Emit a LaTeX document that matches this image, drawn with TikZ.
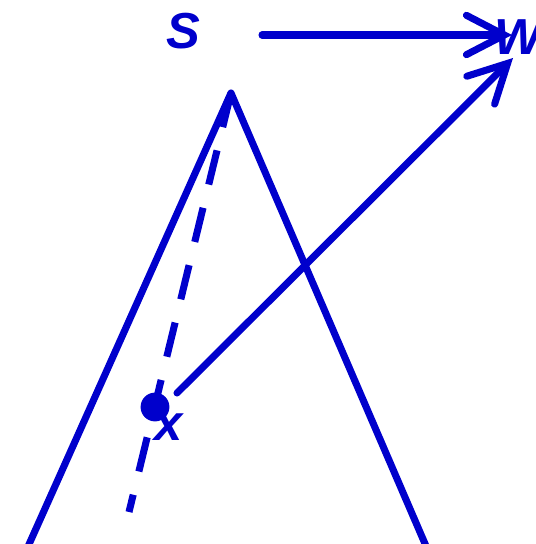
\documentclass[tikz,border=0pt]{standalone}
\usepackage{fontspec}
\setmainfont{Liberation Sans}
\usetikzlibrary{arrows.meta,positioning,calc}
\definecolor{treecol}{RGB}{0,0,204}

\begin{document}
\begin{tikzpicture}[
    x=0.025cm, y=-0.025cm,
    >={Straight Barb[length=27pt, width=28pt, line cap=round]},
    edge/.style={treecol, line width=5pt, line join=round},
    arrow/.style={edge, ->, line cap=round},
    lbl/.style={text=treecol, inner sep=0pt, font=\fontsize{36}{40}\selectfont\bfseries\itshape},
]
\useasboundingbox (0,0) rectangle (535,544);

% tree
\coordinate (apex) at (231,93);
\coordinate (lbase) at (22,560);
\coordinate (rbase) at (432,560);
\draw[edge] (lbase) -- (apex) -- (rbase);

% path down to the leaf
\coordinate (pend) at (129,512);
\draw[edge, dash pattern=on 25pt off 17pt] (apex) -- (pend);
\node[circle, fill=treecol, inner sep=0pt, minimum size=0.72cm] (leaf) at (155,407) {};

% labels
\node[lbl] (S) at (183,31) {S};
\node[lbl] (W) at (518,37) {W};
\node[lbl] (x) at (169,427) {x};

% arrows
\coordinate (sstart) at (262,35);
\coordinate (stip) at (512,35);
\draw[arrow] (sstart) -- (stip);
\coordinate (xstart) at (177,393);
\coordinate (xtip) at (513,58);
\draw[arrow] (xstart) -- (xtip);
\end{tikzpicture}
\end{document}
